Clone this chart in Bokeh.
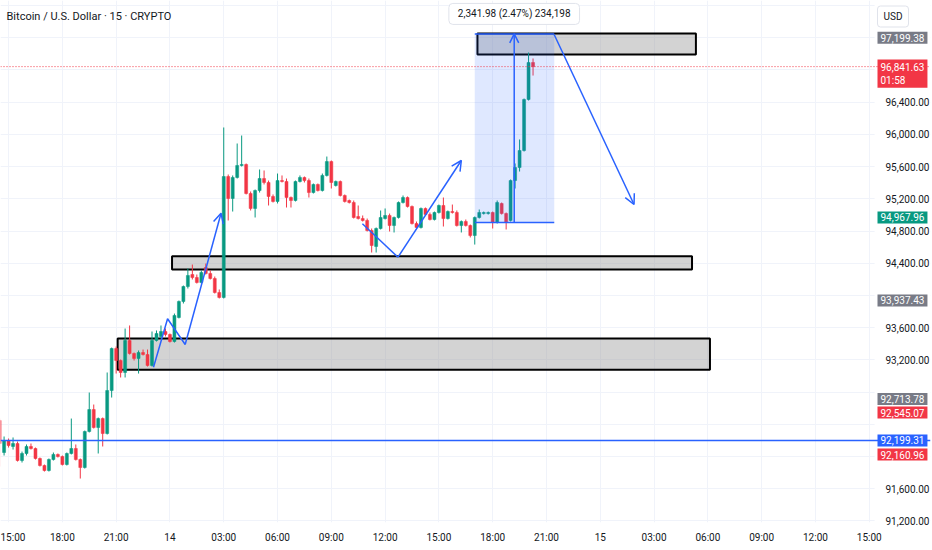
import pandas as pd
from bokeh.plotting import figure
from bokeh.models import (FixedTicker, CustomJSTickFormatter, NumeralTickFormatter, Span,
                          Label, Arrow, OpenHead, Range1d, ColumnDataSource)
from bokeh.embed import file_html
from bokeh.resources import INLINE

# ---------------- data ----------------
bar_start = "2025-01-13 14:30"   # first 15-minute candle
opens = [92447, 92049, 92198, 92124, 92161, 91950, 92037, 92124, 92099, 91975,
         91888, 91826, 91962, 92025, 91999, 91900, 92037, 92099, 91962, 91863,
         92310, 92583, 92360, 92471, 92285, 92819, 93341, 93192, 93043, 93440,
         93279, 93217, 93291, 93266, 93130, 93440, 93490, 93552, 93515, 93428,
         93726, 93925, 94111, 94260, 94223, 94161, 94347, 94273, 94210, 94036,
         93975, 95477, 95204, 95465, 95614, 95626, 95266, 95080, 95303, 95452,
         95403, 95229, 95167, 95427, 95415, 95216, 95179, 95415, 95465, 95427,
         95278, 95378, 95303, 95490, 95663, 95365, 95415, 95241, 95179, 95154,
         94980, 94955, 94931, 94806, 94608, 94831, 94955, 94993, 94868, 94968,
         95154, 95216, 95104, 94893, 94844, 95080, 95005, 94943, 95030, 95117,
         94955, 95042, 95030, 94868, 94918, 94868, 94744, 94968, 95017, 95017,
         95030, 94906, 95142, 95017, 94931, 95427, 95589, 95800, 96433, 96893]
highs = [92471, 92248, 92223, 92236, 92186, 92061, 92149, 92161, 92111, 91987,
         91900, 91975, 92049, 92037, 92012, 92049, 92471, 92149, 91975, 92322,
         92794, 92645, 92484, 92484, 93043, 93353, 93366, 93204, 93589, 93627,
         93291, 93316, 93328, 93328, 93552, 93565, 93627, 93589, 93527, 93775,
         93937, 94123, 94335, 94384, 94260, 94310, 94396, 94310, 94235, 94074,
         96086, 95502, 95490, 95887, 95986, 95639, 95291, 95316, 95564, 95552,
         95427, 95254, 95514, 95490, 95452, 95229, 95427, 95490, 95477, 95452,
         95390, 95390, 95514, 95725, 95676, 95427, 95427, 95254, 95191, 95179,
         95117, 94993, 94955, 94831, 94844, 95055, 95080, 95017, 94980, 95167,
         95241, 95229, 95117, 94918, 95092, 95092, 95030, 95042, 95129, 95216,
         95055, 95129, 95055, 94931, 94943, 94881, 94980, 95067, 95042, 95042,
         95042, 95179, 95154, 95030, 95440, 95639, 95937, 96446, 97017, 96943]
lows = [91875, 92012, 92111, 92086, 91937, 91925, 92012, 92086, 91962, 91875,
        91813, 91813, 91950, 91987, 91888, 91888, 92025, 91950, 91726, 91850,
        92298, 92347, 92037, 92124, 92273, 92732, 93030, 92981, 92981, 93266,
        93192, 93030, 93254, 93117, 93117, 93428, 93465, 93490, 93415, 93415,
        93714, 93900, 94086, 94198, 94148, 94148, 94260, 94198, 94024, 93962,
        93962, 94931, 95042, 95452, 95601, 95254, 95055, 94968, 95278, 95378,
        95117, 95154, 95142, 95403, 95092, 95092, 95167, 95403, 95403, 95216,
        95266, 95291, 95291, 95477, 95328, 95353, 95229, 95154, 95142, 94955,
        94943, 94918, 94794, 94533, 94533, 94819, 94943, 94794, 94782, 94955,
        95142, 95092, 94881, 94831, 94831, 94993, 94931, 94931, 95017, 94856,
        94943, 95017, 94856, 94782, 94856, 94720, 94632, 94955, 95005, 95005,
        94831, 94893, 95005, 94819, 94918, 95328, 95539, 95787, 96421, 96731]
closes = [92161, 92198, 92136, 92161, 91950, 92037, 92124, 92099, 91975, 91888,
          91826, 91962, 92025, 91999, 91900, 92037, 92099, 91962, 91863, 92310,
          92583, 92360, 92471, 92285, 92819, 93341, 93192, 93043, 93440, 93279,
          93217, 93291, 93266, 93130, 93440, 93527, 93552, 93515, 93428, 93751,
          93925, 94111, 94248, 94223, 94161, 94285, 94273, 94210, 94036, 93975,
          95477, 95204, 95465, 95614, 95626, 95266, 95080, 95303, 95452, 95403,
          95229, 95167, 95427, 95415, 95216, 95179, 95415, 95465, 95427, 95278,
          95378, 95303, 95490, 95663, 95403, 95415, 95241, 95167, 95154, 94968,
          94955, 94931, 94806, 94620, 94831, 94968, 94993, 94868, 94968, 95154,
          95216, 95104, 94893, 94844, 95080, 95005, 94943, 95030, 95117, 94955,
          95042, 95030, 94868, 94918, 94868, 94744, 94968, 95030, 95030, 95030,
          94906, 95154, 95017, 94906, 95427, 95589, 95800, 96433, 96893, 96841.63]

# axis ticks
time_ticks = pd.date_range("2025-01-13 15:00", "2025-01-15 15:00", freq="3h")
price_grid = [91200, 91600, 92000, 92400, 92800, 93200, 93600, 94000, 94400,
              94800, 95200, 95600, 96000, 96400, 96800, 97200, 97600]
price_labels = [91200, 91600, 93200, 93600, 94400, 94800, 95200, 95600, 96000, 96400]

# horizontal levels / badges
last_price = 96841.63
countdown = "01:58"
hline_price = 92199.31
badges = [  # price, text, kind
    (97199.38, "97,199.38", "gray"),
    (94967.96, "94,967.96", "green"),
    (93937.43, "93,937.43", "gray"),
    (92713.78, "92,713.78", "gray"),
    (92545.07, "92,545.07", "red"),
    (92199.31, "92,199.31", "blue"),
    (92160.96, "92,160.96", "red"),
]

# drawn zones (rectangles)
box_left = ["2025-01-14 17:09", "2025-01-14 00:07", "2025-01-13 21:05"]
box_right = ["2025-01-15 05:20", "2025-01-15 05:07", "2025-01-15 06:07"]
box_top = [97253, 94487, 93465]
box_bottom = [96992, 94322, 93076]

# drawn arrows (polylines ending in an arrow head)
arrow1_t = ["2025-01-13 23:05", "2025-01-13 23:52", "2025-01-14 00:51", "2025-01-14 02:51"]
arrow1_p = [93109, 93710, 93391, 95021]
arrow2_t = ["2025-01-14 10:44", "2025-01-14 12:43", "2025-01-14 16:15"]
arrow2_p = [94890, 94475, 95676]
arrow3_t = ["2025-01-14 21:26", "2025-01-15 01:53"]
arrow3_p = [97237, 95129]

# price range measurement
meas_left = "2025-01-14 17:00"
meas_right = "2025-01-14 21:26"
meas_mid = "2025-01-14 19:12"
meas_low = 94906.00
meas_high = 97247.98
meas_text = "2,341.98 (2.47%) 234,198"

# ---------------- layout / styling ----------------
VIEW_START, VIEW_END = "2025-01-13 14:33", "2025-01-15 18:25"
SCALE_START = "2025-01-15 15:18"      # where the price scale column begins
PRICE_LO, PRICE_HI = 91180, 97663
BLUE, GREEN, RED, GRAY = "#2962ff", "#089981", "#f23645", "#787b86"
TEXT, GRIDC = "#131722", "#f0f3fa"
FONT = "Roboto"
KIND = {"gray": GRAY, "green": GREEN, "red": RED, "blue": BLUE}
W, H, XAX = 932, 550, 28


def ms(t):
    return pd.Timestamp(t).value / 1e6


times = pd.date_range(bar_start, periods=len(closes), freq="15min")
colors = [GREEN if c >= o else RED for o, c in zip(opens, closes)]
src = ColumnDataSource(dict(
    time=times, open=opens, high=highs, low=lows, close=closes, color=colors,
    top=[max(o, c) for o, c in zip(opens, closes)],
    bottom=[min(o, c) for o, c in zip(opens, closes)],
))

p = figure(width=W, height=H, x_axis_type="datetime", y_axis_location="right",
           x_range=Range1d(pd.Timestamp(VIEW_START), pd.Timestamp(VIEW_END)),
           y_range=Range1d(PRICE_LO, PRICE_HI),
           output_backend="svg", toolbar_location=None,
           min_border_left=0, min_border_top=0, min_border_right=0, min_border_bottom=XAX)
p.outline_line_color = None
p.background_fill_color = "white"
p.border_fill_color = "white"

# axes
tick_ms = [ms(t) for t in time_ticks]
p.xaxis.ticker = FixedTicker(ticks=tick_ms)
p.xaxis.formatter = CustomJSTickFormatter(code="""
const d = new Date(tick);
const h = d.getUTCHours(), m = d.getUTCMinutes();
if (h === 0 && m === 0) { return String(d.getUTCDate()); }
return String(h).padStart(2, '0') + ':' + String(m).padStart(2, '0');
""")
p.yaxis.ticker = FixedTicker(ticks=price_labels)
p.yaxis.formatter = NumeralTickFormatter(format="0,0.00")
for ax in (p.xaxis[0], p.yaxis[0]):
    ax.axis_line_color = None
    ax.major_tick_line_color = None
    ax.minor_tick_line_color = None
    ax.major_label_text_font = FONT
    ax.major_label_text_font_size = "10px"
    ax.major_label_text_color = TEXT
p.xaxis.major_label_standoff = 3
p.yaxis.major_label_standoff = -51     # price labels sit inside the scale column
p.xgrid.ticker = FixedTicker(ticks=tick_ms)
p.ygrid.ticker = FixedTicker(ticks=price_grid)
p.xgrid.grid_line_color = GRIDC
p.ygrid.grid_line_color = GRIDC

# zones under the candles
p.quad(left=[pd.Timestamp(t) for t in box_left], right=[pd.Timestamp(t) for t in box_right],
       top=box_top, bottom=box_bottom, fill_color="#9e9e9e", fill_alpha=0.45,
       line_color="black", line_width=2)

# candles
p.segment(x0="time", y0="low", x1="time", y1="high", color="color", line_width=1, source=src)
p.vbar(x="time", width=10 * 60 * 1000, top="top", bottom="bottom",
       fill_color="color", line_color="color", line_width=0.5, source=src)

# measurement
p.quad(left=[pd.Timestamp(meas_left)], right=[pd.Timestamp(meas_right)],
       top=[meas_high], bottom=[meas_low], fill_color=BLUE, fill_alpha=0.15, line_color=None)
p.segment(x0=[pd.Timestamp(meas_left)] * 2, x1=[pd.Timestamp(meas_right)] * 2,
          y0=[meas_high, meas_low], y1=[meas_high, meas_low], line_color=BLUE, line_width=1.5)
p.add_layout(Arrow(end=OpenHead(size=9, line_color=BLUE, line_width=1.5),
                   x_start=ms(meas_mid), y_start=meas_low, x_end=ms(meas_mid), y_end=meas_high,
                   line_color=BLUE, line_width=1.5))

# hand drawn arrows
for ts, ps in ((arrow1_t, arrow1_p), (arrow2_t, arrow2_p), (arrow3_t, arrow3_p)):
    if len(ts) > 2:
        p.line([pd.Timestamp(t) for t in ts[:-1]], ps[:-1], line_color=BLUE, line_width=1.5)
    p.add_layout(Arrow(end=OpenHead(size=10, line_color=BLUE, line_width=1.5),
                       x_start=ms(ts[-2]), y_start=ps[-2], x_end=ms(ts[-1]), y_end=ps[-1],
                       line_color=BLUE, line_width=1.5))

# white price-scale column (hides the grid behind the price labels)
p.quad(left=[pd.Timestamp(SCALE_START)], right=[pd.Timestamp(VIEW_END)],
       top=[PRICE_HI], bottom=[PRICE_LO], fill_color="white", line_color=None)

# horizontal lines
p.add_layout(Span(location=hline_price, dimension="width", line_color=BLUE, line_width=1.5))
p.add_layout(Span(location=last_price, dimension="width", line_color=RED, line_width=1,
                  line_dash="1 2"))

FH = H - XAX   # frame height in screen px

# title
p.add_layout(Label(x=6, y=FH - 16, x_units="screen", y_units="screen",
                   text="Bitcoin / U.S. Dollar · 15 · CRYPTO", text_font=FONT,
                   text_font_size="11px", text_color=TEXT, text_baseline="middle"))

# measurement label
p.add_layout(Label(x=ms(meas_mid), y=meas_high, text=meas_text, text_font=FONT,
                   text_font_size="10px", text_color=TEXT, text_align="center",
                   text_baseline="middle", y_offset=20, background_fill_color="white",
                   border_line_color="#e0e3eb", border_radius=4, padding=(9, 5)))

# price scale badges
BX = 877
p.add_layout(Label(x=BX, y=FH - 16, x_units="screen", y_units="screen", text="USD",
                   text_font=FONT, text_font_size="10px", text_color=TEXT,
                   text_baseline="middle", background_fill_color="white",
                   border_line_color="#e0e3eb", border_radius=3, padding=(6, 5)))
offsets = {92160.96: -11}
for price, txt, kind in badges:
    p.add_layout(Label(x=BX, y=price, x_units="screen", text=txt, text_font=FONT,
                       text_font_size="10px", text_color="white", text_baseline="middle",
                       background_fill_color=KIND[kind], padding=(3, 2),
                       y_offset=offsets.get(price, 0)))
p.add_layout(Label(x=BX, y=last_price, x_units="screen",
                   text="{:,.2f}\n{}".format(last_price, countdown), text_font=FONT,
                   text_font_size="10px", text_color="white", text_baseline="middle",
                   background_fill_color=RED, padding=(3, 2), y_offset=-7))

open("out.html", "w").write(file_html(p, INLINE))
